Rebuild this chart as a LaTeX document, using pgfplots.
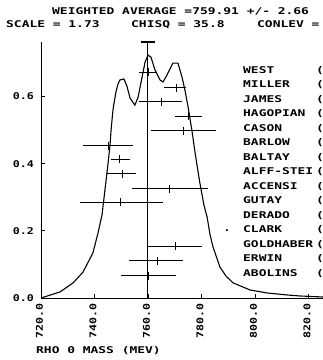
\documentclass[border=0pt]{standalone}
\usepackage{pgfplots}
\pgfplotsset{compat=1.18}
\usepackage{fontspec}
\newfontfamily\pf[FakeStretch=1.39,UprightFont=* Bold]{DejaVu Sans Mono}
\newfontfamily\tf[FakeStretch=1.25,UprightFont=* Bold]{DejaVu Sans Mono}
\newcommand\pfs{\pf\fontsize{9.3bp}{10bp}\selectfont}
\newcommand\tfs{\tf\fontsize{9.3bp}{10bp}\selectfont}
\begin{document}
\begin{tikzpicture}
\path[use as bounding box] (0,0) rectangle (323bp,360bp);
\begin{axis}[
  at={(41bp,62bp)}, anchor=south west,
  scale only axis, width=288.9bp, height=256bp,
  xmin=720, xmax=828, ymin=0, ymax=0.762,
  axis x line=bottom, axis y line=left,
  axis line style={-, line width=1bp},
  clip=false,
  xtick={720,740,760,780,800,820},
  xticklabels={720.0,740.0,760.0,780.0,800.0,820.0},
  ytick={0,0.2,0.4,0.6},
  yticklabels={0.0,0.2,0.4,0.6},
  tick align=inside, major tick length=4bp,
  tick style={line width=1bp, black},
  xticklabel style={font=\tfs, inner sep=0pt, yshift=-5bp, xshift=-1.5bp, rotate=90, anchor=east},
  yticklabel style={font=\tfs, inner sep=0pt, xshift=-7bp, anchor=east},
]
% ideogram curve
\addplot[black, line width=1.1bp] coordinates {
(720.0,0.000) (727.1,0.018) (732.0,0.045) (735.7,0.077) (739.4,0.134)
(741.3,0.193) (742.8,0.247) (743.9,0.321) (745.0,0.396) (745.8,0.455)
(746.2,0.500) (746.9,0.560) (748.0,0.613) (748.8,0.637) (749.5,0.649)
(751.0,0.652) (752.1,0.631) (753.3,0.595) (755.1,0.574) (756.3,0.598)
(757.8,0.658) (758.9,0.702) (760.0,0.723) (761.1,0.717) (762.6,0.679)
(764.5,0.649) (765.6,0.643) (767.1,0.664) (769.3,0.699) (771.2,0.699)
(772.7,0.658) (773.8,0.619) (775.0,0.568) (776.4,0.500) (777.6,0.432)
(779.4,0.342) (780.9,0.277) (782.1,0.241) (783.2,0.188) (784.3,0.152)
(786.9,0.092) (789.2,0.065) (791.8,0.045) (798.1,0.024) (804.5,0.015)
(812.0,0.009) (816.8,0.006) (825.4,0.003)
};
% weighted average
\addplot[black, line width=1.1bp] coordinates {(759.91,0) (759.91,0.762)};
\addplot[black, line width=1.1bp] coordinates {(757.25,0.762) (762.57,0.762)};
% measurements
\addplot[black, only marks, mark=|, mark size=4bp, mark options={line width=1bp},
  error bars/.cd, x dir=both, x explicit, error mark=none,
  error bar style={line width=1bp}]
  table[x=x, y=y, x error plus=ep, x error minus=em] {
x     y      em    ep
760.0 0.6715 3.4  3.4
770.5 0.6265 4.5  3.7
764.9 0.5845 8.2  7.9
775.0 0.5405 4.9  5.2
773.1 0.4985 12.0 12.3
745.4 0.4535 9.7  9.0
749.5 0.4125 3.4  3.7
750.3 0.3705 5.6  5.2
768.2 0.3255 14.2 14.2
749.9 0.2845 15.3 15.7
770.1 0.1535 10.1 10.1
763.4 0.1115 10.5 9.7
760.0 0.0665 10.1 10.5
};
\addplot[black, only marks, mark=*, mark size=0.8bp] coordinates {(789.5,0.202)};
\end{axis}
\begin{scope}[yshift=360bp, x=1bp, y=-1bp]
\node[anchor=base west, inner sep=0pt, font=\pfs] at (52,15) {WEIGHTED AVERAGE =759.91 +/- 2.66};
\node[anchor=base west, inner sep=0pt, font=\pfs] at (6,27.3) {SCALE = 1.73};
\node[anchor=base west, inner sep=0pt, font=\pfs] at (131,27.3) {CHISQ = 35.8};
\node[anchor=base west, inner sep=0pt, font=\pfs] at (257,27.3) {CONLEV =};
\node[anchor=base west, inner sep=0pt, font=\pfs] at (36,353.5) {RHO 0 MASS (MEV)};
\foreach \n/\y in {WEST/73.5, MILLER/88, JAMES/102.5, HAGOPIAN/117, CASON/131.5, BARLOW/146, BALTAY/160.5, ALFF-STEI/175, ACCENSI/189.5, GUTAY/204, DERADO/218.5, CLARK/233, GOLDHABER/247.5, ERWIN/262, ABOLINS/276.5}{
  \node[anchor=base west, inner sep=0pt, font=\pfs] at (243,\y) {\n};
  \node[anchor=base west, inner sep=0pt, font=\pfs] at (316,\y) {(};
}
\end{scope}
\end{tikzpicture}
\end{document}
